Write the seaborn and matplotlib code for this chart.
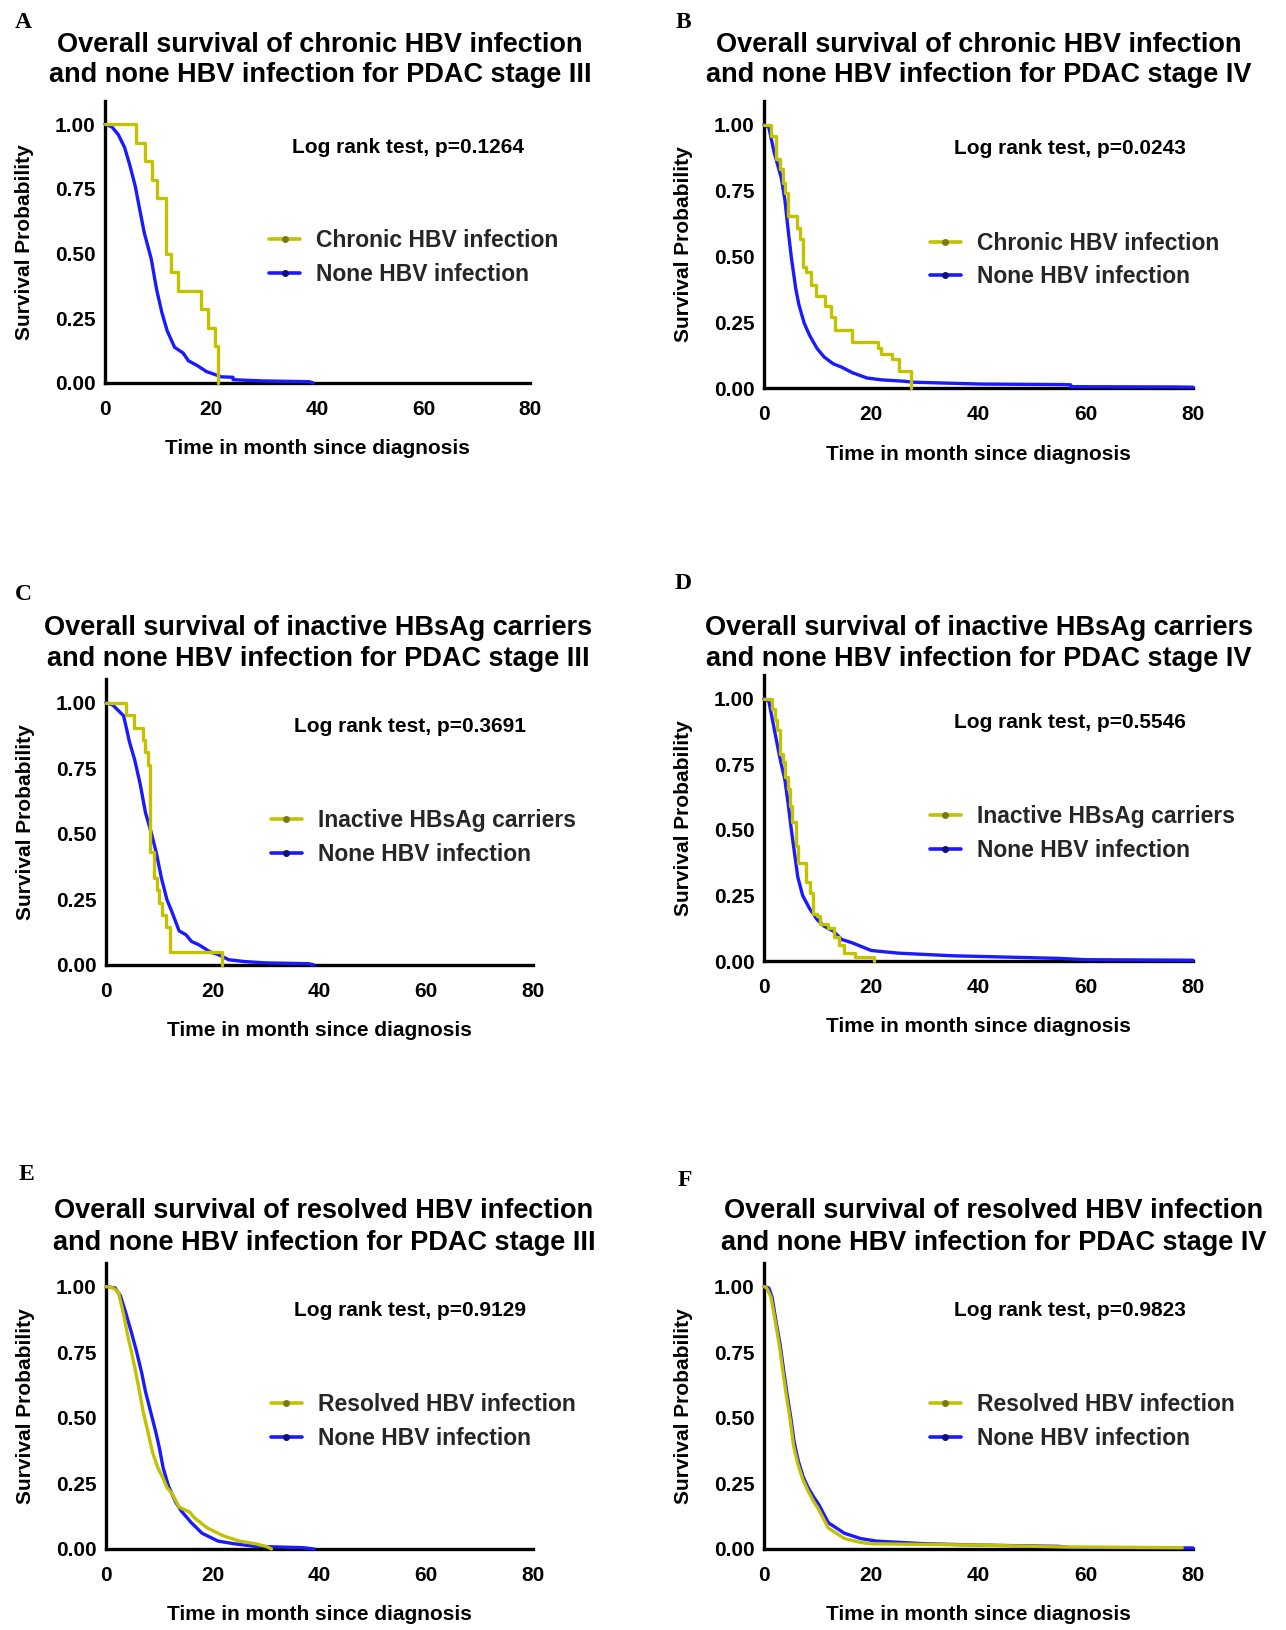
import matplotlib
matplotlib.use("Agg")
import matplotlib.pyplot as plt
from matplotlib.lines import Line2D
import seaborn as sns

# ---------------- data ----------------
x_ticks = [0, 20, 40, 60, 80]
y_ticks = [0.00, 0.25, 0.50, 0.75, 1.00]
y_tick_labels = ["0.00", "0.25", "0.50", "0.75", "1.00"]

titles = [
    "Overall survival of chronic HBV infection\nand none HBV infection for PDAC stage III",
    "Overall survival of chronic HBV infection\nand none HBV infection for PDAC stage IV",
    "Overall survival of inactive HBsAg carriers\nand none HBV infection for PDAC stage III",
    "Overall survival of inactive HBsAg carriers\nand none HBV infection for PDAC stage IV",
    "Overall survival of resolved HBV infection\nand none HBV infection for PDAC stage III",
    "Overall survival of resolved HBV infection\nand none HBV infection for PDAC stage IV",
]
panel_letters = ["A", "B", "C", "D", "E", "F"]
p_values = ["0.1264", "0.0243", "0.3691", "0.5546", "0.9129", "0.9823"]
group_labels = ["Chronic HBV infection", "Chronic HBV infection",
                "Inactive HBsAg carriers", "Inactive HBsAg carriers",
                "Resolved HBV infection", "Resolved HBV infection"]
none_label = "None HBV infection"

# Panel A - stage III, chronic HBV (small group, step curve)
a_grp_t = [0, 5.9, 7.6, 8.9, 9.8, 11.4, 12.4, 13.7, 18.1, 19.3, 20.7, 21.2]
a_grp_s = [1.0, 0.929, 0.857, 0.786, 0.714, 0.50, 0.429, 0.357, 0.286, 0.214, 0.143, 0.0]
a_none_t = [0, 1.3, 2.5, 3.7, 4.7, 5.7, 6.4, 7.4, 8.7, 9.7, 10.7, 11.7, 13.1, 14.7, 15.7,
            17.4, 19.1, 20.4, 21.8, 24.1, 24.1, 27.1, 29.8, 38.5, 39.2]
a_none_s = [1.0, 0.99, 0.96, 0.91, 0.84, 0.76, 0.685, 0.58, 0.48, 0.363, 0.273, 0.202, 0.138,
            0.116, 0.086, 0.067, 0.044, 0.035, 0.024, 0.022, 0.013, 0.010, 0.008, 0.005, 0.0]

# Panel B - stage IV, chronic HBV
b_grp_t = [0, 1.3, 2.2, 2.9, 3.5, 3.9, 4.5, 6.2, 6.7, 7.2, 7.9, 8.7, 9.7, 11.3, 12.5, 13.3,
           16.5, 21.2, 21.9, 23.9, 25.1, 27.5]
b_grp_s = [1.0, 0.957, 0.87, 0.83, 0.78, 0.74, 0.652, 0.609, 0.565, 0.46, 0.44, 0.39, 0.35,
           0.31, 0.27, 0.22, 0.174, 0.152, 0.13, 0.109, 0.065, 0.0]
b_none_t = [0, 0.9, 1.9, 3.2, 3.9, 4.5, 5.1, 5.9, 6.5, 7.5, 8.5, 9.9, 11.2, 12.9, 14.5, 16.5,
            19.2, 21.9, 25.9, 27.9, 33.2, 40.5, 55.9, 57.2, 57.2, 76.5, 80.0]
b_none_s = [1.0, 0.99, 0.894, 0.80, 0.714, 0.60, 0.496, 0.38, 0.317, 0.246, 0.20, 0.15, 0.118,
            0.092, 0.079, 0.058, 0.038, 0.031, 0.026, 0.022, 0.019, 0.015, 0.013, 0.012, 0.005,
            0.004, 0.003]

# Panel C - stage III, inactive HBsAg carriers
c_grp_t = [0, 3.8, 5.2, 7.0, 7.4, 7.8, 8.3, 9.0, 9.5, 9.9, 10.5, 11.3, 12.0, 21.8]
c_grp_s = [1.0, 0.952, 0.905, 0.857, 0.81, 0.762, 0.429, 0.333, 0.286, 0.238, 0.19, 0.143, 0.048, 0.0]
c_none_t = [0, 1.3, 3.3, 4.4, 5.4, 6.4, 7.4, 8.4, 9.4, 10.4, 11.4, 12.4, 13.7, 15.0, 16.0, 17.4,
            19.5, 21.0, 23.0, 26.0, 30.0, 38.0, 39.0]
c_none_s = [1.0, 0.99, 0.95, 0.85, 0.78, 0.69, 0.58, 0.51, 0.43, 0.33, 0.25, 0.20, 0.13, 0.115,
            0.09, 0.077, 0.05, 0.04, 0.02, 0.013, 0.008, 0.005, 0.0]

# Panel D - stage IV, inactive HBsAg carriers
d_grp_t = [0, 1.5, 2.1, 2.5, 2.9, 3.5, 4.0, 4.5, 4.9, 5.3, 5.9, 6.3, 7.9, 8.5, 9.2, 9.9, 10.5,
           12.0, 13.0, 14.0, 15.0, 17.0, 20.5]
d_grp_s = [1.0, 0.96, 0.92, 0.88, 0.79, 0.76, 0.70, 0.656, 0.59, 0.53, 0.44, 0.375, 0.30, 0.26,
           0.18, 0.17, 0.14, 0.125, 0.09, 0.06, 0.03, 0.015, 0.0]
d_none_t = [0, 0.9, 1.9, 2.9, 3.9, 4.5, 5.1, 5.7, 6.3, 7.2, 8.5, 9.9, 11.2, 12.9, 14.5, 16.5,
            20.0, 25.0, 35.0, 45.0, 55.0, 60.0, 80.0]
d_none_s = [1.0, 0.99, 0.885, 0.78, 0.69, 0.60, 0.50, 0.41, 0.32, 0.25, 0.20, 0.158, 0.133,
            0.114, 0.082, 0.069, 0.04, 0.03, 0.02, 0.015, 0.01, 0.005, 0.003]

# Panel E - stage III, resolved HBV infection
e_grp_t = [0, 1.3, 2.3, 3.3, 4.0, 5.0, 6.0, 7.0, 7.7, 8.7, 9.7, 10.7, 11.4, 12.4, 13.7, 15.7,
           16.5, 19.0, 22.0, 25.0, 28.0, 30.0, 31.0]
e_grp_s = [1.0, 0.995, 0.98, 0.895, 0.82, 0.73, 0.63, 0.52, 0.46, 0.37, 0.31, 0.27, 0.235, 0.21,
           0.16, 0.14, 0.12, 0.08, 0.05, 0.03, 0.02, 0.01, 0.0]
e_none_t = [0, 1.7, 2.7, 3.7, 4.7, 5.7, 6.7, 7.4, 8.4, 9.4, 10.0, 10.7, 11.7, 13.1, 14.1, 16.0,
            18.0, 21.0, 24.0, 28.0, 37.0, 39.0]
e_none_s = [1.0, 0.995, 0.965, 0.90, 0.83, 0.755, 0.67, 0.60, 0.52, 0.44, 0.385, 0.31, 0.24,
            0.177, 0.145, 0.10, 0.06, 0.03, 0.02, 0.01, 0.005, 0.0]

# Panel F - stage IV, resolved HBV infection
f_grp_t = [0, 0.5, 1.3, 2.2, 2.9, 3.5, 4.2, 4.9, 5.5, 6.3, 7.2, 8.2, 9.2, 10.2, 12.0, 15.0,
           18.0, 20.0, 40.0, 55.0, 78.0]
f_grp_s = [1.0, 0.995, 0.96, 0.856, 0.77, 0.68, 0.58, 0.49, 0.395, 0.325, 0.267, 0.222, 0.183,
           0.15, 0.08, 0.04, 0.025, 0.02, 0.015, 0.008, 0.005]
f_none_t = [0, 0.9, 1.5, 2.3, 3.0, 3.6, 4.3, 5.0, 5.6, 6.4, 7.3, 8.2, 9.2, 10.2, 12.0, 15.0,
            18.0, 21.0, 30.0, 40.0, 55.0, 57.0, 80.0]
f_none_s = [1.0, 0.995, 0.96, 0.86, 0.78, 0.69, 0.59, 0.50, 0.41, 0.335, 0.275, 0.235, 0.20,
            0.17, 0.10, 0.06, 0.04, 0.03, 0.02, 0.015, 0.01, 0.005, 0.004]

groups_t = [a_grp_t, b_grp_t, c_grp_t, d_grp_t, e_grp_t, f_grp_t]
groups_s = [a_grp_s, b_grp_s, c_grp_s, d_grp_s, e_grp_s, f_grp_s]
nones_t = [a_none_t, b_none_t, c_none_t, d_none_t, e_none_t, f_none_t]
nones_s = [a_none_s, b_none_s, c_none_s, d_none_s, e_none_s, f_none_s]
group_is_step = [True, True, True, True, False, False]

# ---------------- style ----------------
W, H = 1286, 1630
YELLOW = "#C2C200"
YELLOW_DOT = "#7A7A10"
BLUE = "#1A1AFF"
BLUE_DOT = "#10107A"
FONT = ["Liberation Sans", "DejaVu Sans"]
SERIF = ["Liberation Serif", "DejaVu Serif"]

sns.set_theme(style="white")
plt.rcParams["font.family"] = FONT
plt.rcParams["font.weight"] = "bold"

fig = plt.figure(figsize=(W / 100, H / 100), dpi=100)

# axes boxes in pixels: left, right, top, bottom
boxes = [
    (105, 530, 101, 383),
    (764, 1193, 101, 388),
    (106, 533, 679, 965),
    (764, 1193, 675, 961),
    (106, 533, 1263, 1549),
    (764, 1193, 1263, 1549),
]
title_pos = [(320, 60), (979, 60), (318, 644), (979, 644), (324, 1227), (994, 1227)]
letter_pos = [(23, 22), (683, 22), (23, 595), (683, 584), (26, 1175), (685, 1180)]

for i in range(6):
    l, r, t, b = boxes[i]
    ax = fig.add_axes([l / W, 1 - b / H, (r - l) / W, (b - t) / H])
    ax.set_facecolor("white")

    sns.lineplot(x=nones_t[i], y=nones_s[i], ax=ax, color=BLUE, linewidth=2.4,
                 estimator=None, sort=False, zorder=3, clip_on=False)
    sns.lineplot(x=groups_t[i], y=groups_s[i], ax=ax, color=YELLOW, linewidth=2.4,
                 estimator=None, sort=False,
                 drawstyle="steps-post" if group_is_step[i] else "default",
                 zorder=4, clip_on=False)

    ax.set_xlim(0, 80)
    ax.set_ylim(0, 1.09)
    ax.set_xticks(x_ticks)
    ax.set_xticklabels([str(v) for v in x_ticks], fontsize=15, fontweight="bold")
    ax.set_yticks(y_ticks)
    ax.set_yticklabels(y_tick_labels, fontsize=15, fontweight="bold")
    ax.tick_params(axis="both", direction="out", length=5, width=2.2, color="black",
                   labelcolor="black")
    ax.tick_params(axis="x", pad=7)
    ax.tick_params(axis="y", pad=2)
    for side in ["top", "right"]:
        ax.spines[side].set_visible(False)
    for side in ["left", "bottom"]:
        ax.spines[side].set_linewidth(2.4)
        ax.spines[side].set_color("black")
    ax.grid(False)

    ax.set_xlabel("Time in month since diagnosis", fontsize=15, fontweight="bold",
                  labelpad=15, color="black")
    ax.set_ylabel("Survival Probability", fontsize=15, fontweight="bold",
                  labelpad=15, color="black")

    ax.text(0.712, 0.835, f"Log rank test, p={p_values[i]}", transform=ax.transAxes,
            ha="center", va="center", fontsize=15, fontweight="bold", color="black")

    handles = [
        Line2D([], [], color=YELLOW, lw=2.6, marker="o", markersize=4,
               markerfacecolor=YELLOW_DOT, markeredgecolor=YELLOW_DOT),
        Line2D([], [], color=BLUE, lw=2.6, marker="o", markersize=4,
               markerfacecolor=BLUE_DOT, markeredgecolor=BLUE_DOT),
    ]
    ax.legend(handles, [group_labels[i], none_label], loc="center left",
              bbox_to_anchor=(0.386, 0.446), frameon=False, borderpad=0, borderaxespad=0,
              handlelength=1.35, handletextpad=0.72, labelspacing=0.47,
              prop={"family": FONT, "weight": "bold", "size": 16.5})

    tx, ty = title_pos[i]
    fig.text(tx / W, 1 - ty / H, titles[i], ha="center", va="center", fontsize=19.5,
             fontweight="bold", linespacing=1.25, color="black")
    lx, ly = letter_pos[i]
    fig.text(lx / W, 1 - ly / H, panel_letters[i], ha="center", va="center", fontsize=17,
             fontweight="bold", family=SERIF, color="black")

fig.savefig("out.png", dpi=100, facecolor="white")
